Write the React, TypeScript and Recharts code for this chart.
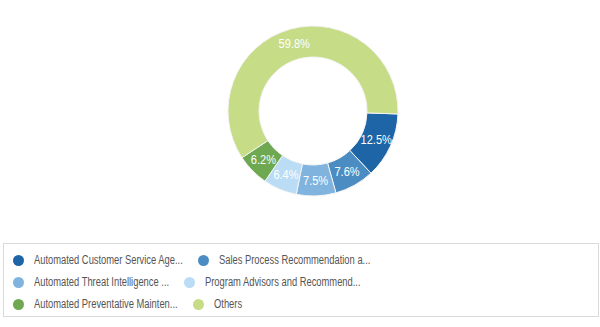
import React, { useLayoutEffect, useRef, useState } from "react";
import { PieChart, Pie, Cell, Legend } from "recharts";

const names = [
  "Automated Customer Service Age...",
  "Sales Process Recommendation a...",
  "Automated Threat Intelligence ...",
  "Program Advisors and Recommend...",
  "Automated Preventative Mainten...",
  "Others",
];
const values = [12.5, 7.6, 7.5, 6.4, 6.2, 59.8];
const colors = ["#1d65a6", "#4b8dc3", "#80b3de", "#bbdcf5", "#6ea851", "#c6dc86"];

const data = names.map((name, i) => ({ name, value: values[i], color: colors[i] }));

const RAD = Math.PI / 180;
const FONT = "Arial, 'Liberation Sans', sans-serif";
const SQUEEZE = 0.78;

const renderLabel = (props: any) => {
  const { cx, cy, midAngle, innerRadius, outerRadius, value } = props;
  const r = (innerRadius + outerRadius) / 2;
  const x = cx + r * Math.cos(-midAngle * RAD);
  const y = cy + r * Math.sin(-midAngle * RAD);
  return (
    <text
      x={x}
      y={y}
      fill="#ffffff"
      textAnchor="middle"
      dominantBaseline="central"
      fontSize={13}
      fontFamily={FONT}
      transform={`translate(${x} ${y}) scale(0.85 1) translate(${-x} ${-y})`}
    >
      {value.toFixed(1)}%
    </text>
  );
};

function SqueezedText({ text }: { text: string }) {
  const ref = useRef<HTMLSpanElement>(null);
  const [w, setW] = useState(0);
  useLayoutEffect(() => {
    if (ref.current) setW(ref.current.offsetWidth);
  }, [text]);
  return (
    <span
      ref={ref}
      style={{
        display: "inline-block",
        fontSize: 12,
        color: "#555",
        fontFamily: FONT,
        whiteSpace: "nowrap",
        transform: `scaleX(${SQUEEZE})`,
        transformOrigin: "0 50%",
        marginRight: -w * (1 - SQUEEZE),
      }}
    >
      {text}
    </span>
  );
}

const rows = [
  [0, 1],
  [2, 3],
  [4, 5],
];

const renderLegend = () => (
  <div
    style={{
      boxSizing: "border-box",
      width: 596,
      height: 74,
      border: "1px solid #dadada",
      padding: "5px 0 0 9px",
    }}
  >
    {rows.map((row, ri) => (
      <div key={ri} style={{ display: "flex", alignItems: "center", height: 22 }}>
        {row.map((i) => (
          <div key={i} style={{ display: "flex", alignItems: "center", marginRight: 15 }}>
            <span
              style={{
                display: "inline-block",
                width: 11,
                height: 11,
                borderRadius: 6,
                background: colors[i],
                marginRight: 10,
              }}
            />
            <SqueezedText text={names[i]} />
          </div>
        ))}
      </div>
    ))}
  </div>
);

export default function App() {
  return (
    <div style={{ position: "absolute", left: 0, top: 0, width: 600, height: 327, background: "#fff" }}>
      <PieChart width={600} height={327}>
        <Pie
          data={data}
          dataKey="value"
          nameKey="name"
          cx={308}
          cy={106}
          innerRadius={54}
          outerRadius={85}
          startAngle={-2}
          endAngle={-362}
          stroke="#f4f4f4"
          strokeWidth={1}
          label={renderLabel}
          labelLine={false}
          isAnimationActive={false}
        >
          {data.map((d, i) => (
            <Cell key={i} fill={d.color} />
          ))}
        </Pie>
        <Legend
          content={renderLegend}
          wrapperStyle={{ position: "absolute", left: 3, top: 243, width: 596, height: 74 }}
        />
      </PieChart>
    </div>
  );
}
